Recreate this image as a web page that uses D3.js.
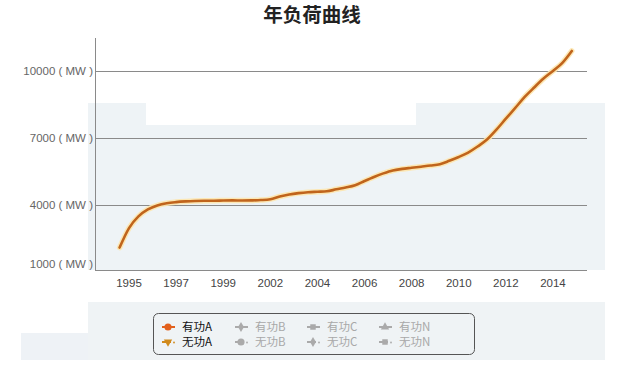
<!DOCTYPE html>
<html><head><meta charset="utf-8">
<script src="https://cdn.jsdelivr.net/npm/d3@7"></script>
<style>
html,body{margin:0;padding:0;background:#fff;}
svg{display:block;}
text{font-family:"Liberation Sans","Noto Sans CJK SC",sans-serif;}
</style></head>
<body><svg id="c" width="625" height="379"></svg>
<script>
const title = "年负荷曲线";
const yTicks = [1000, 4000, 7000, 10000];
const yUnit = " ( MW )";
const xLabels = ["1995","1997","1999","2002","2004","2006","2008","2010","2012","2014"];
// 有功A load series (MW), sampled evenly along the time axis
const activeA = [2100,2970,3490,3800,3980,4080,4130,4160,4180,4190,
                 4190,4200,4205,4200,4205,4220,4260,4380,4470,4530,
                 4570,4590,4610,4700,4780,4880,5070,5250,5410,5540,
                 5610,5660,5710,5760,5820,5970,6140,6340,6610,6920,
                 7360,7850,8330,8820,9240,9640,9980,10340,10870];
const legendItems = [
  {name:"有功A", color:"#e2601c", marker:"circle", active:true, dash:false},
  {name:"有功B", color:"#aaaaaa", marker:"diamond", active:false, dash:false},
  {name:"有功C", color:"#aaaaaa", marker:"square", active:false, dash:false},
  {name:"有功N", color:"#aaaaaa", marker:"triangle", active:false, dash:false},
  {name:"无功A", color:"#d08a1c", marker:"triangle-down", active:true, dash:true},
  {name:"无功B", color:"#aaaaaa", marker:"circle", active:false, dash:true},
  {name:"无功C", color:"#aaaaaa", marker:"diamond", active:false, dash:true},
  {name:"无功N", color:"#aaaaaa", marker:"square", active:false, dash:true}
];

const svg = d3.select("#c");

// subtle background panels
const bg = [
  {x:88,y:103,w:517,h:167,c:"#eef3f6"},
  {x:88,y:302,w:517,h:58,c:"#eff3f5"},
  {x:21,y:333,w:67,h:27,c:"#eef2f6"}
];
svg.selectAll("rect.bg").data(bg).join("rect").attr("class","bg")
  .attr("x",d=>d.x).attr("y",d=>d.y).attr("width",d=>d.w).attr("height",d=>d.h).attr("fill",d=>d.c);
svg.append("rect").attr("x",146).attr("y",103).attr("width",270).attr("height",22).attr("fill","#ffffff");

const x0 = 95, x1 = 587, yBottom = 270, yTop = 38;
const xs = d3.scaleLinear().domain([0, activeA.length-1]).range([119.6, 571.8]);
const ys = d3.scaleLinear().domain([4000, 10000]).range([205, 70.5]);

// title
svg.append("text").attr("x",312).attr("y",22).attr("text-anchor","middle")
  .attr("font-size",19.5).attr("font-weight","bold").attr("fill","#222")
  .style("font-family","'Noto Sans CJK SC',sans-serif").text(title);

// gridlines
svg.selectAll("line.grid").data(yTicks.filter(v=>v>1000)).join("line").attr("class","grid")
  .attr("x1",x0).attr("x2",x1).attr("y1",d=>Math.round(ys(d))+0.5).attr("y2",d=>Math.round(ys(d))+0.5)
  .attr("stroke","#8a8a8a").attr("stroke-width",1);

// axes lines
svg.append("line").attr("x1",x0+0.5).attr("x2",x0+0.5).attr("y1",yTop).attr("y2",yBottom).attr("stroke","#8a8a8a");
svg.append("line").attr("x1",x0).attr("x2",x1).attr("y1",yBottom+0.5).attr("y2",yBottom+0.5).attr("stroke","#8a8a8a");

// y labels
svg.selectAll("text.yl").data(yTicks).join("text").attr("class","yl")
  .attr("x",93).attr("y",d=> d===1000 ? 264 : ys(d))
  .attr("dy","0.35em").attr("text-anchor","end").attr("font-size",11.5).attr("fill","#666")
  .text(d=>d+yUnit);

// x labels
svg.selectAll("text.xl").data(xLabels).join("text").attr("class","xl")
  .attr("x",(d,i)=>xs(1+5*i)).attr("y",283).attr("dy","0.35em").attr("text-anchor","middle")
  .attr("font-size",11.5).attr("fill","#444").text(d=>d);

// series
const line = d3.line().x((d,i)=>xs(i)).y(d=>ys(d)).curve(d3.curveMonotoneX);
svg.append("path").datum(activeA).attr("d",line).attr("fill","none")
  .attr("stroke","#fde6ad").attr("stroke-width",5.5).attr("stroke-linejoin","round").attr("stroke-linecap","round").attr("opacity",0.9);
svg.append("path").datum(activeA).attr("d",line).attr("fill","none")
  .attr("stroke","#c0641c").attr("stroke-width",2.6).attr("stroke-linejoin","round").attr("stroke-linecap","round");

// legend
svg.append("rect").attr("x",153.5).attr("y",313.5).attr("width",321).attr("height",41).attr("rx",5)
  .attr("fill","none").attr("stroke","#555").attr("stroke-width",1);
const colX = [162, 235, 307, 379];
const rowY = [327, 342];
const sym = {circle:d3.symbolCircle, diamond:d3.symbolDiamond, square:d3.symbolSquare, triangle:d3.symbolTriangle, "triangle-down":d3.symbolTriangle};
const lg = svg.selectAll("g.lg").data(legendItems).join("g").attr("class","lg")
  .attr("transform",(d,i)=>`translate(${colX[i%4]},${rowY[Math.floor(i/4)]})`);
lg.append("line").attr("x1",0).attr("x2",d=>d.dash?9:13).attr("y1",0).attr("y2",0)
  .attr("stroke",d=>d.color).attr("stroke-width",2);
lg.filter(d=>d.dash).append("circle").attr("cx",12).attr("cy",0.5).attr("r",0.9).attr("fill",d=>d.color);
lg.append("path").attr("d",d=>d3.symbol().type(sym[d.marker]).size(d.marker==="circle"?40:30)())
  .attr("transform",d=>`translate(6,0)${d.marker==="triangle-down"?" rotate(180)":""}`)
  .attr("fill",d=>d.color);
lg.append("text").attr("x",20).attr("y",0).attr("dy","0.35em").attr("font-size",11.5)
  .attr("fill",d=>d.active?"#111":"#a8a8a8")
  .style("font-family","'Noto Sans CJK SC',sans-serif").text(d=>d.name);
</script></body></html>
